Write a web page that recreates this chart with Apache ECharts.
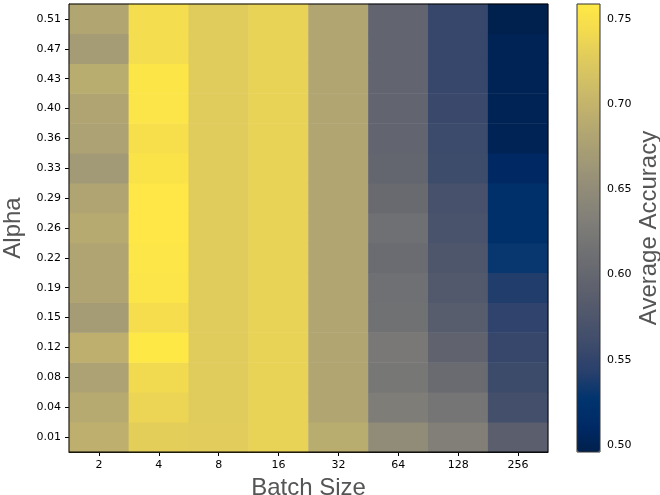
<!DOCTYPE html>
<html>
<head>
<meta charset="utf-8">
<script src="https://cdn.jsdelivr.net/npm/echarts@6/dist/echarts.min.js"></script>
<style>html,body{margin:0;padding:0;background:#fff}#c{width:660px;height:495px}</style>
</head>
<body>
<div id="c"></div>
<script>
// Batch sizes (x) and alpha values (y, bottom to top)
const batchSizes = ['2', '4', '8', '16', '32', '64', '128', '256'];
const alphas = ['0.01', '0.04', '0.08', '0.12', '0.15', '0.19', '0.22', '0.26', '0.29', '0.33', '0.36', '0.40', '0.43', '0.47', '0.51'];

// Average accuracy per batch size, listed from alpha 0.01 up to 0.51
const acc_b2   = [0.695, 0.688, 0.678, 0.695, 0.670, 0.680, 0.680, 0.688, 0.680, 0.667, 0.678, 0.680, 0.690, 0.670, 0.682];
const acc_b4   = [0.730, 0.737, 0.742, 0.758, 0.746, 0.754, 0.756, 0.757, 0.757, 0.752, 0.748, 0.754, 0.755, 0.745, 0.745];
const acc_b8   = [0.728, 0.727, 0.727, 0.727, 0.727, 0.727, 0.727, 0.727, 0.727, 0.727, 0.727, 0.727, 0.727, 0.727, 0.727];
const acc_b16  = [0.735, 0.735, 0.735, 0.735, 0.735, 0.735, 0.735, 0.735, 0.735, 0.735, 0.735, 0.735, 0.735, 0.735, 0.735];
const acc_b32  = [0.690, 0.682, 0.682, 0.682, 0.682, 0.682, 0.682, 0.682, 0.682, 0.682, 0.682, 0.682, 0.682, 0.682, 0.682];
const acc_b64  = [0.650, 0.630, 0.622, 0.624, 0.614, 0.612, 0.607, 0.612, 0.604, 0.598, 0.597, 0.597, 0.597, 0.597, 0.597];
const acc_b128 = [0.633, 0.620, 0.605, 0.595, 0.585, 0.580, 0.575, 0.570, 0.568, 0.560, 0.558, 0.556, 0.554, 0.553, 0.553];
const acc_b256 = [0.589, 0.565, 0.559, 0.553, 0.548, 0.540, 0.530, 0.520, 0.520, 0.510, 0.501, 0.501, 0.501, 0.501, 0.497];

const columns = [acc_b2, acc_b4, acc_b8, acc_b16, acc_b32, acc_b64, acc_b128, acc_b256];
const colorTicks = [0.50, 0.55, 0.60, 0.65, 0.70, 0.75];
const vMin = 0.4959, vMax = 0.7588;

const cividis = ['rgb(0,32,76)','rgb(0,42,102)','rgb(0,52,110)','rgb(39,63,108)','rgb(60,74,107)','rgb(76,85,107)','rgb(91,95,109)','rgb(104,106,112)','rgb(117,117,117)','rgb(131,129,120)','rgb(146,140,120)','rgb(161,152,118)','rgb(176,165,114)','rgb(192,177,109)','rgb(209,191,102)','rgb(225,204,92)','rgb(243,219,79)','rgb(255,233,69)'];

const data = [];
columns.forEach((col, xi) => col.forEach((v, yi) => data.push([xi, yi, v])));

const tickFont = {fontFamily: 'DejaVu Sans', fontSize: 11, color: '#000'};
const titleFont = {fontFamily: 'Liberation Sans', fontSize: 24, color: '#555'};

const chart = echarts.init(document.getElementById('c'), null, {renderer: 'canvas'});
chart.setOption({
  animation: false,
  backgroundColor: '#fff',
  grid: [
    {left: 69, top: 4, width: 479, height: 448, containLabel: false, outerBoundsMode: 'none'},
    {left: 577, top: 4, width: 23, height: 448, containLabel: false, outerBoundsMode: 'none'}
  ],
  xAxis: [
    {type: 'category', gridIndex: 0, data: batchSizes, name: 'Batch Size', nameLocation: 'middle', nameGap: 23,
     nameTextStyle: titleFont,
     axisLine: {show: true, lineStyle: {color: '#000', width: 1}},
     axisTick: {show: true, alignWithLabel: true, length: 4, lineStyle: {color: '#000'}},
     axisLabel: Object.assign({margin: 8}, tickFont), splitLine: {show: false}},
    {type: 'value', gridIndex: 1, show: false, min: 0, max: 1}
  ],
  yAxis: [
    {type: 'category', gridIndex: 0, data: alphas, name: 'Alpha', nameLocation: 'middle', nameGap: 36,
     nameTextStyle: titleFont,
     axisLine: {show: true, lineStyle: {color: '#000', width: 1}},
     axisTick: {show: true, alignWithLabel: true, length: 4, lineStyle: {color: '#000'}},
     axisLabel: Object.assign({margin: 8}, tickFont), splitLine: {show: false}},
    {type: 'value', gridIndex: 1, position: 'right', min: vMin, max: vMax,
     name: 'Average Accuracy', nameLocation: 'middle', nameGap: 37, nameRotate: 90,
     nameTextStyle: titleFont,
     axisLine: {show: false},
     axisTick: {show: true, length: 4, lineStyle: {color: '#000'}, customValues: colorTicks},
     axisLabel: Object.assign({margin: 7, customValues: colorTicks, formatter: v => v.toFixed(2)}, tickFont),
     splitLine: {show: false}}
  ],
  visualMap: {
    type: 'continuous', seriesIndex: 0, min: vMin, max: vMax, calculable: false, show: true,
    left: 577, top: 4, itemWidth: 23, itemHeight: 448, padding: 0, text: null, showLabel: false,
    inRange: {color: cividis}
  },
  series: [{
    type: 'heatmap', xAxisIndex: 0, yAxisIndex: 0, data: data,
    itemStyle: {borderWidth: 0}, emphasis: {disabled: true}
  }],
  graphic: [
    {type: 'rect', z: 100, silent: true, shape: {x: 69, y: 4, width: 479, height: 448}, style: {fill: null, stroke: '#000', lineWidth: 1}},
    {type: 'rect', z: 100, silent: true, shape: {x: 577, y: 4, width: 23, height: 448}, style: {fill: null, stroke: '#333', lineWidth: 1}}
  ]
});
</script>
</body>
</html>
